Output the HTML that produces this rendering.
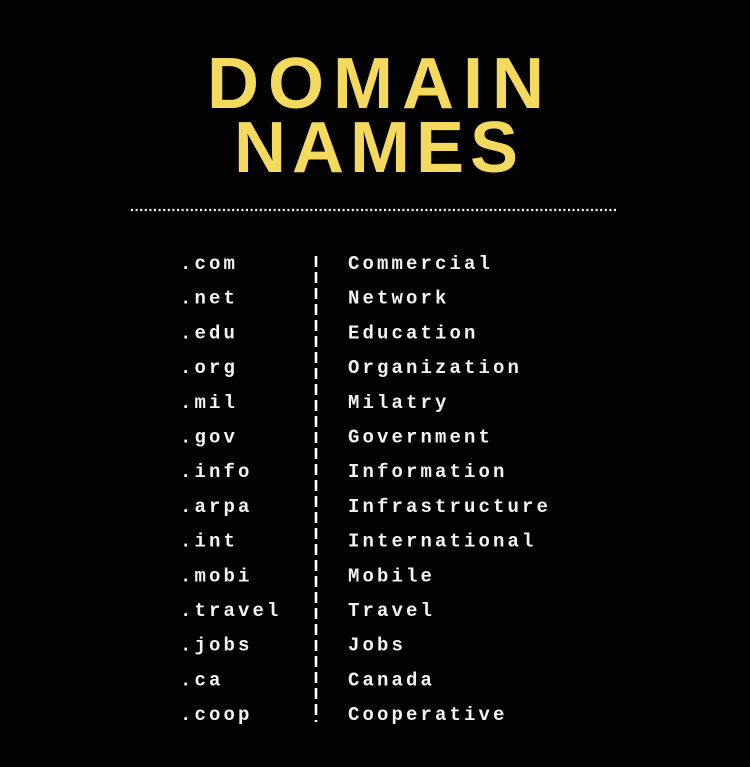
<!DOCTYPE html>
<html><head><meta charset="utf-8">
<style>
html,body{margin:0;padding:0;background:#000;}
body{width:750px;height:767px;overflow:hidden;position:relative;}
svg{position:absolute;left:0;top:0;}
</style></head>
<body>
<svg width="750" height="767" viewBox="0 0 750 767">
  <rect x="0" y="0" width="750" height="767" fill="#030303"/>
  <text x="380" y="108" text-anchor="middle" font-family="Liberation Sans, sans-serif" font-weight="bold" font-size="72" letter-spacing="9" fill="#f3da5e">DOMAIN</text>
  <text x="379" y="172" text-anchor="middle" font-family="Liberation Sans, sans-serif" font-weight="bold" font-size="72" letter-spacing="6" fill="#f3da5e">NAMES</text>
  <line x1="131" y1="210" x2="618" y2="210" stroke="#fff" stroke-width="2.2" stroke-dasharray="2 2.6"/>
  <line x1="316" y1="256" x2="316" y2="722" stroke="#fff" stroke-width="2.6" stroke-dasharray="11 5"/>
  <g id="rows"></g>
</svg>
<script>
const domains = [".com",".net",".edu",".org",".mil",".gov",".info",".arpa",".int",".mobi",".travel",".jobs",".ca",".coop"];
const meanings = ["Commercial","Network","Education","Organization","Milatry","Government","Information","Infrastructure","International","Mobile","Travel","Jobs","Canada","Cooperative"];
const g = document.getElementById('rows');
const NS = 'http://www.w3.org/2000/svg';
for (let i = 0; i < domains.length; i++) {
  const y = 269 + i * 34.7;
  const a = document.createElementNS(NS, 'text');
  a.setAttribute('x', 180); a.setAttribute('y', y);
  a.setAttribute('font-family', 'Liberation Mono, monospace');
  a.setAttribute('font-weight', 'bold');
  a.setAttribute('font-size', '19');
  a.setAttribute('letter-spacing', '3.1');
  a.setAttribute('fill', '#f2f2f2');
  a.textContent = domains[i];
  
  
  g.appendChild(a);
  const b = document.createElementNS(NS, 'text');
  b.setAttribute('x', 348); b.setAttribute('y', y);
  b.setAttribute('font-family', 'Liberation Mono, monospace');
  b.setAttribute('font-weight', 'bold');
  b.setAttribute('font-size', '19');
  b.setAttribute('letter-spacing', '3.1');
  b.setAttribute('fill', '#f2f2f2');
  b.textContent = meanings[i];
  
  
  g.appendChild(b);
}
</script>
</body></html>
